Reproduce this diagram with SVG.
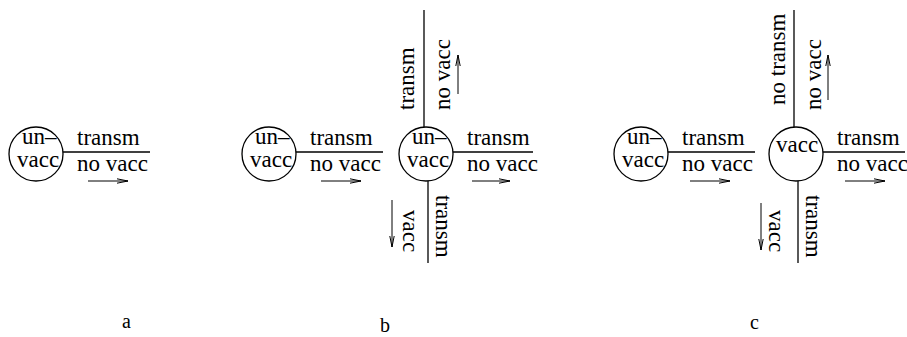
<svg xmlns="http://www.w3.org/2000/svg" width="907" height="337" viewBox="0 0 907 337" font-family="'Liberation Serif', 'Times New Roman', serif">
<defs>
<marker id="ah" markerWidth="12" markerHeight="6" refX="11" refY="3" orient="auto" markerUnits="userSpaceOnUse">
<path d="M0,0.8 L11,3 L0,5.2" fill="none" stroke="#000" stroke-width="1"/>
</marker>
<style>
text{font-family:'Liberation Serif','Times New Roman',serif;font-size:23px;fill:#000}
.lbl{font-size:20px}
circle{fill:#fff;stroke:#000;stroke-width:1.3}
line{stroke:#000;stroke-width:1.3}
.arr{stroke-width:1;marker-end:url(#ah)}
</style>
</defs>
<rect width="907" height="337" fill="#fff"/>
<g id="connectors">
<line x1="63" y1="152" x2="150" y2="152"/>
<line class="arr" x1="88" y1="181" x2="128" y2="181"/>
<line x1="296" y1="152" x2="383" y2="152"/>
<line class="arr" x1="321" y1="181" x2="361" y2="181"/>
<line x1="453" y1="152" x2="533" y2="152"/>
<line class="arr" x1="472" y1="181" x2="510" y2="181"/>
<line x1="424" y1="10" x2="424" y2="127"/>
<line class="arr" x1="458" y1="94" x2="458" y2="55"/>
<line x1="428" y1="181" x2="428" y2="263"/>
<line class="arr" x1="392" y1="200" x2="392" y2="247"/>
<line x1="668" y1="152" x2="755" y2="152"/>
<line class="arr" x1="690" y1="181" x2="730" y2="181"/>
<line x1="823" y1="152" x2="905" y2="152"/>
<line class="arr" x1="845" y1="181" x2="885" y2="181"/>
<line x1="794" y1="10" x2="794" y2="127"/>
<line class="arr" x1="828" y1="100" x2="828" y2="55"/>
<line x1="798" y1="181" x2="798" y2="263"/>
<line class="arr" x1="761" y1="203" x2="761" y2="250"/>
</g>
<g id="a-node">
<circle cx="36" cy="154" r="27"/>
<text><tspan x="22" y="144">un–</tspan><tspan x="17" y="167">vacc</tspan></text>
</g>
<g id="a-labels">
<text x="77" y="145">transm</text>
<text x="77" y="171">no vacc</text>
<text class="lbl" x="122" y="328">a</text>
</g>
<g id="b-left-node">
<circle cx="269" cy="154" r="27"/>
<text><tspan x="255" y="144">un–</tspan><tspan x="250" y="167">vacc</tspan></text>
</g>
<g id="b-center-node">
<circle cx="426" cy="154" r="27"/>
<text><tspan x="412" y="144">un–</tspan><tspan x="407" y="167">vacc</tspan></text>
</g>
<g id="b-labels">
<text x="310" y="145">transm</text>
<text x="310" y="171">no vacc</text>
<text x="467" y="145">transm</text>
<text x="467" y="171">no vacc</text>
<text transform="translate(414,110) rotate(-90)">transm</text>
<text transform="translate(450,110) rotate(-90)">no vacc</text>
<text transform="translate(436,195) rotate(90)">transm</text>
<text transform="translate(403,210) rotate(90)">vacc</text>
<text class="lbl" x="380" y="332">b</text>
</g>
<g id="c-left-node">
<circle cx="641" cy="154" r="27"/>
<text><tspan x="627" y="144">un–</tspan><tspan x="622" y="167">vacc</tspan></text>
</g>
<g id="c-center-node">
<circle cx="796" cy="154" r="27"/>
<text x="776" y="152">vacc</text>
</g>
<g id="c-labels">
<text x="682" y="145">transm</text>
<text x="682" y="171">no vacc</text>
<text x="837" y="145">transm</text>
<text x="837" y="171">no vacc</text>
<text transform="translate(785,105) rotate(-90)">no transm</text>
<text transform="translate(821,110) rotate(-90)">no vacc</text>
<text transform="translate(806,195) rotate(90)">transm</text>
<text transform="translate(769,210) rotate(90)">vacc</text>
<text class="lbl" x="750" y="329">c</text>
</g>
</svg>
